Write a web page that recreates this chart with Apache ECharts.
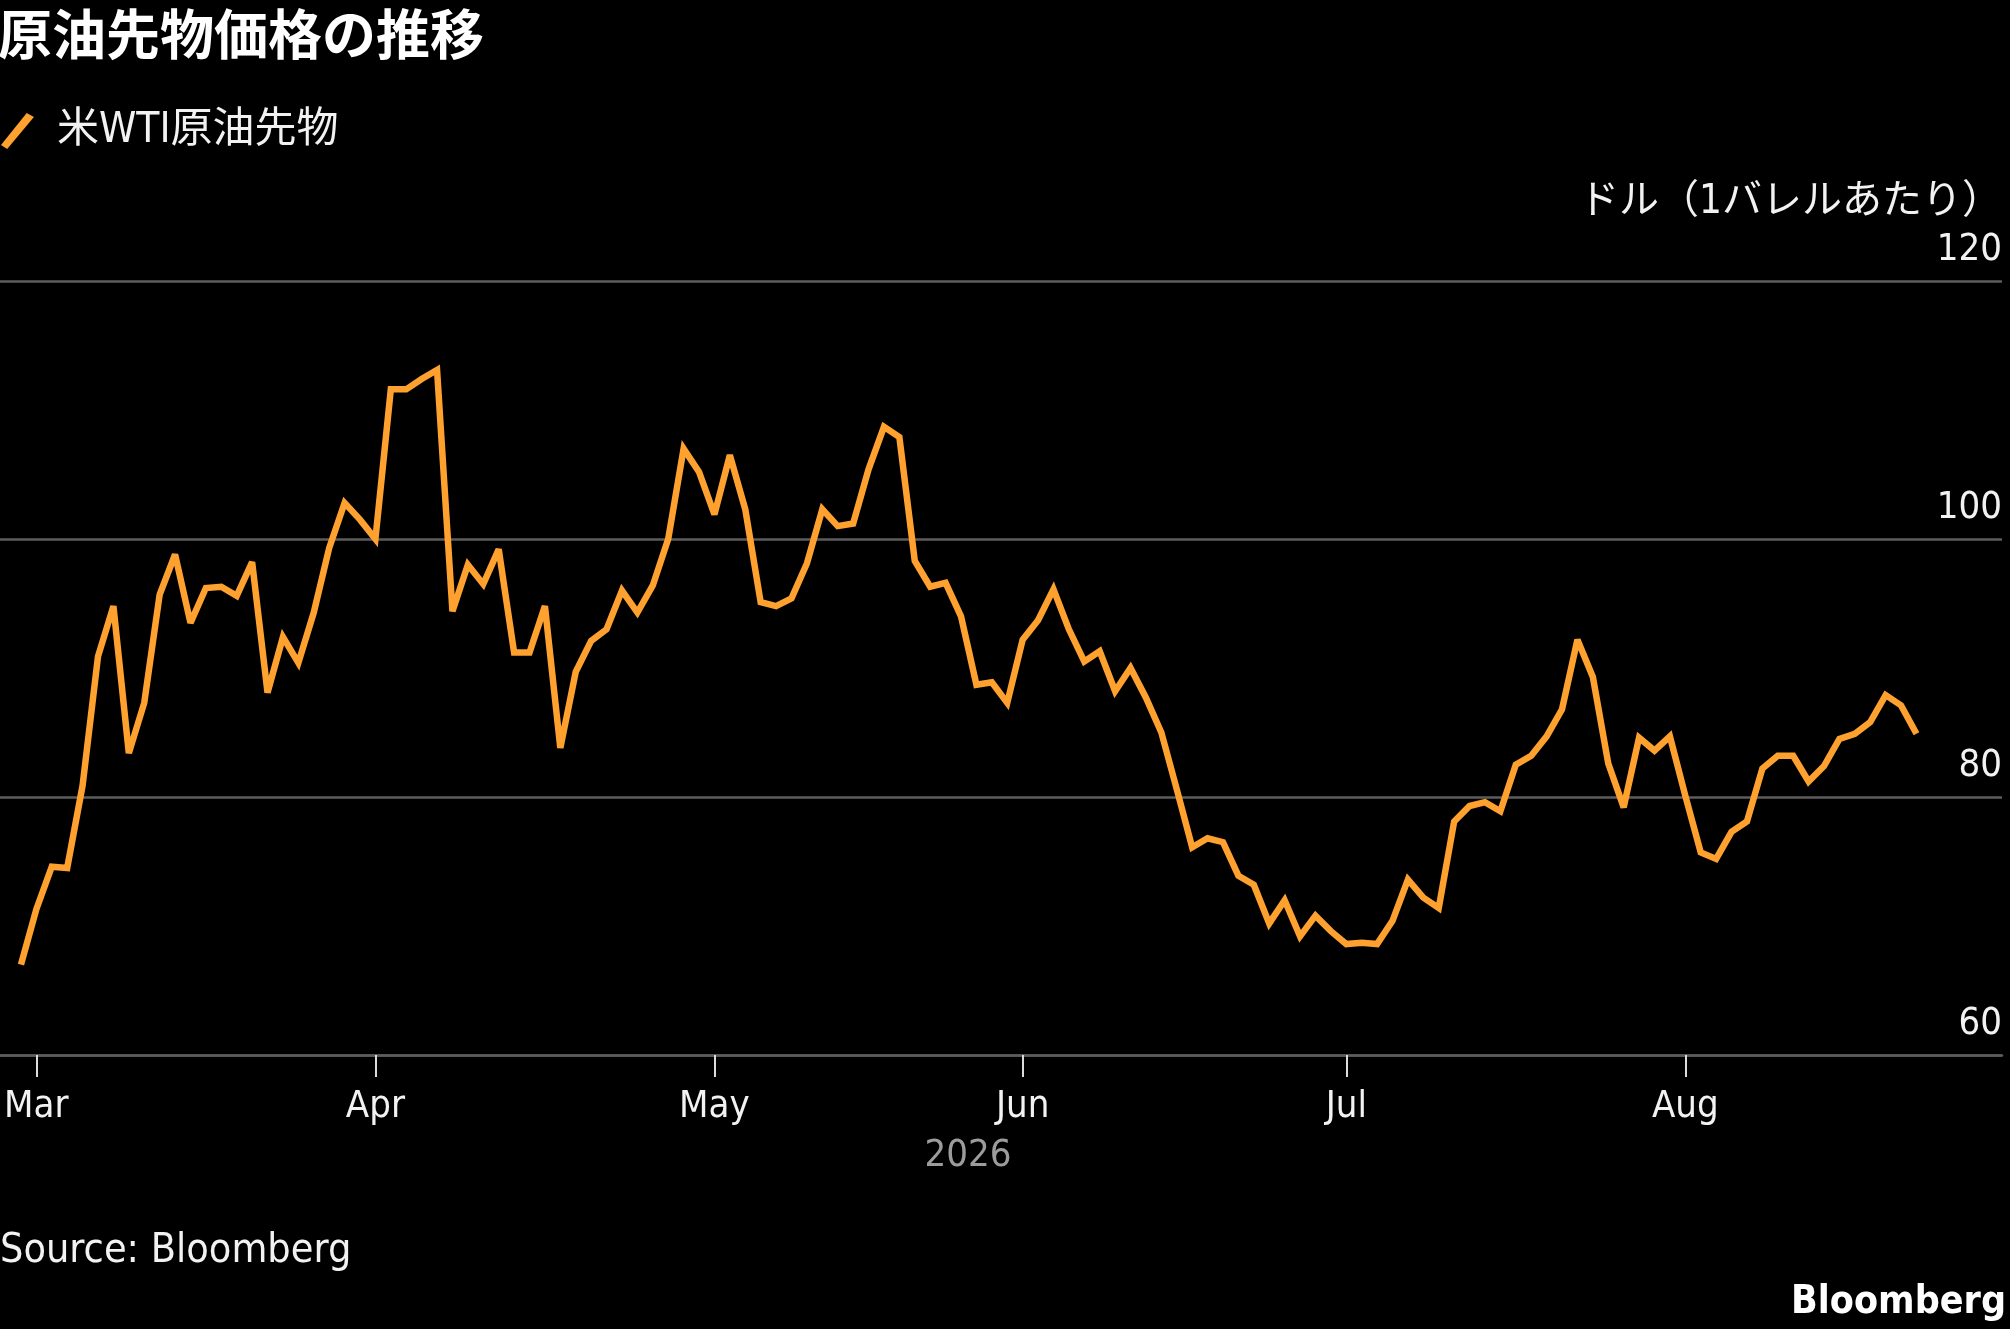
<!DOCTYPE html>
<html><head><meta charset="utf-8">
<script src="https://cdn.jsdelivr.net/npm/echarts@6/dist/echarts.min.js"></script>
<style>html,body{margin:0;padding:0;background:#000;}#c{width:2010px;height:1329px;}</style>
</head><body><div id="c"></div>
<script>
// ---- data ----
const titleText = '原油先物価格の推移';
const seriesName = '米WTI原油先物';
const unitText = 'ドル（1バレルあたり）';
const yearText = '2026';
const sourceText = 'Source: Bloomberg';
const firstDay = '2026-02-27';
const lastDay = '2026-08-24';
const holidays = ['2026-05-25', '2026-06-19', '2026-07-03'];
const monthNames = ['Jan','Feb','Mar','Apr','May','Jun','Jul','Aug','Sep','Oct','Nov','Dec'];
const yTicks = [60, 80, 100, 120];
const wti = [
  67.0, 71.3, 74.6, 74.5, 80.9, 90.9, 94.8, 83.4, 87.3, 95.7,
  98.8, 93.5, 96.2, 96.3, 95.6, 98.2, 88.1, 92.4, 90.4, 94.3,
  99.3, 102.8, 101.5, 100.0, 111.6, 111.6, 112.4, 113.1, 94.4, 98.0,
  96.5, 99.2, 91.2, 91.2, 94.8, 83.8, 89.7, 92.1, 93.0, 96.0,
  94.3, 96.4, 100.0, 107.0, 105.2, 101.9, 106.5, 102.3, 95.1, 94.8,
  95.4, 98.1, 102.3, 101.0, 101.2, 105.4, 108.7, 107.9, 98.3, 96.3,
  96.6, 94.0, 88.7, 88.9, 87.3, 92.2, 93.7, 96.1, 93.0, 90.5,
  91.3, 88.2, 90.0, 87.7, 85.0, 80.6, 76.1, 76.8, 76.5, 73.9,
  73.2, 70.2, 72.0, 69.2, 70.8, 69.6, 68.6, 68.7, 68.6, 70.4,
  73.6, 72.2, 71.4, 78.1, 79.3, 79.6, 78.9, 82.5, 83.2, 84.7,
  86.8, 92.2, 89.3, 82.6, 79.2, 84.6, 83.6, 84.7, 80.1, 75.7,
  75.2, 77.3, 78.1, 82.2, 83.2, 83.2, 81.2, 82.4, 84.5, 84.9,
  85.8, 87.9, 87.1, 84.9
];

// trading-day calendar (weekdays minus exchange holidays)
const dates = [];
for (let d = new Date(firstDay + 'T00:00:00Z'); d <= new Date(lastDay + 'T00:00:00Z'); d.setUTCDate(d.getUTCDate() + 1)) {
  const iso = d.toISOString().slice(0, 10);
  const wd = d.getUTCDay();
  if (wd === 0 || wd === 6 || holidays.indexOf(iso) >= 0) continue;
  dates.push(iso);
}
const tickIdx = [];
const tickLabel = {};
for (let i = 1; i < dates.length; i++) {
  if (dates[i].slice(5, 7) !== dates[i - 1].slice(5, 7)) {
    tickIdx.push(i);
    tickLabel[i] = monthNames[parseInt(dates[i].slice(5, 7), 10) - 1];
  }
}
const points = wti.map((v, i) => [i, v]);

const LAT = "'DejaVu Sans Condensed','Liberation Sans Narrow','Noto Sans',sans-serif";
const JP = "'DejaVu Sans Condensed','Noto Sans CJK JP',sans-serif";
const ORANGE = '#ffa12f';
const GRID = '#5c5c5c';
const TXT = '#f2f2f2';

const chart = echarts.init(document.getElementById('c'), null, { renderer: 'canvas' });
chart.setOption({
  backgroundColor: '#000',
  animation: false,
  title: {
    text: titleText, left: -2, top: 7, padding: 0,
    textStyle: { color: '#fff', fontSize: 54, fontWeight: 'bold', fontFamily: "'Noto Sans CJK JP',sans-serif" }
  },
  legend: {
    left: 1, top: 110, padding: 0,
    itemWidth: 33, itemHeight: 36,
    data: [{ name: seriesName, icon: 'path://M0,31 L25,0 L32,4 L6,35 Z' }],
    textStyle: { color: TXT, fontSize: 42, fontFamily: JP, padding: [0, 0, 0, 18] }
  },
  grid: { left: 0, right: 8, top: 281, bottom: 274, outerBoundsMode: 'none' },
  xAxis: {
    type: 'value',
    min: -1.36, max: 128.55,
    splitLine: { show: false },
    axisLine: { show: true, lineStyle: { color: GRID, width: 2.5 } },
    axisTick: { show: true, customValues: tickIdx, length: 22, lineStyle: { color: '#dcdcdc', width: 2 } },
    axisLabel: {
      show: true, customValues: tickIdx, margin: 33,
      color: TXT, fontSize: 38, fontFamily: LAT,
      formatter: v => tickLabel[v] || ''
    }
  },
  yAxis: {
    type: 'value', position: 'right',
    min: yTicks[0], max: yTicks[yTicks.length - 1], interval: 20,
    axisLine: { show: false }, axisTick: { show: false },
    splitLine: { show: true, lineStyle: { color: GRID, width: 2.5 } },
    axisLabel: {
      inside: true, margin: 0, color: TXT, fontSize: 38, fontFamily: LAT,
      verticalAlign: 'bottom', padding: [0, 0, 12, 0]
    }
  },
  graphic: [
    { type: 'text', x: 2002, y: 203, style: { text: unitText, fill: TXT, fontSize: 40, fontFamily: JP, align: 'right', verticalAlign: 'middle', textAlign: 'right', textVerticalAlign: 'middle' } },
    { type: 'text', x: 968, y: 1156, style: { text: yearText, fill: '#9c9c9c', fontSize: 38, fontFamily: LAT, align: 'center', verticalAlign: 'middle', textAlign: 'center', textVerticalAlign: 'middle' } },
    { type: 'text', x: 0, y: 1251, style: { text: sourceText, fill: TXT, fontSize: 41, fontFamily: LAT, align: 'left', verticalAlign: 'middle', textAlign: 'left', textVerticalAlign: 'middle' } },
    { type: 'text', x: 2006, y: 1303, style: { text: 'Bloomberg', fill: '#fff', fontSize: 39, fontWeight: 'bold', fontFamily: LAT, align: 'right', verticalAlign: 'middle', textAlign: 'right', textVerticalAlign: 'middle' } }
  ],
  series: [{
    name: seriesName, type: 'line', data: points,
    symbol: 'none', showSymbol: false,
    itemStyle: { color: ORANGE },
    lineStyle: { color: ORANGE, width: 6.5, join: 'miter', miterLimit: 3 }
  }]
});
</script></body></html>
